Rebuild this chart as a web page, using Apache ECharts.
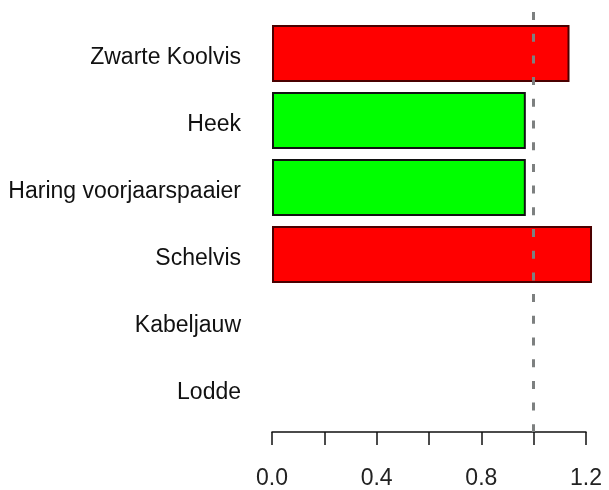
<!DOCTYPE html>
<html>
<head>
<meta charset="utf-8">
<script src="https://cdn.jsdelivr.net/npm/echarts@6/dist/echarts.min.js"></script>
<style>
html,body{margin:0;padding:0;background:#fff;}
#c{width:609px;height:490px;}
</style>
</head>
<body>
<div id="c"></div>
<script>
var categories = ['Zwarte Koolvis', 'Heek', 'Haring voorjaarspaaier', 'Schelvis', 'Kabeljauw', 'Lodde'];
var values = [1.137, 0.97, 0.97, 1.223, null, null];
var referenceValue = 1.0;
var axisMin = 0, axisMax = 1.2, tickStep = 0.2;

var gridTop = 20, gridBottom = 68, axisOffset = 10, chartH = 490;
var chart = echarts.init(document.getElementById('c'), null, {renderer: 'canvas'});
var font = 'Liberation Sans, Arial, sans-serif';
var option = {
  animation: false,
  grid: {left: 272, right: 23, top: gridTop, bottom: gridBottom},
  xAxis: {
    type: 'value',
    min: axisMin, max: axisMax, interval: tickStep,
    offset: axisOffset,
    axisLine: {show: true, lineStyle: {color: '#111', width: 1.5}},
    axisTick: {show: true, length: 13, lineStyle: {color: '#111', width: 1.5}},
    splitLine: {show: false},
    axisLabel: {
      margin: 35, color: '#222', fontSize: 23, fontFamily: font,
      formatter: function (v) {
        var k = Math.round(v / tickStep);
        return k % 2 === 0 ? v.toFixed(1) : '';
      }
    }
  },
  yAxis: {
    type: 'category',
    inverse: true,
    data: categories,
    axisLine: {show: false},
    axisTick: {show: false},
    axisLabel: {
      margin: 31, color: '#111', fontSize: 23, fontFamily: font,
      formatter: function (v) { return '{t|' + v + '}'; },
      rich: {t: {color: '#111', fontSize: 23, fontFamily: font, padding: [8, 0, 0, 0]}}
    }
  },
  series: [{
    type: 'bar',
    barWidth: 57,
    clip: false,
    data: values.map(function (v) {
      return {
        value: v,
        itemStyle: {
          color: v > referenceValue ? '#ff0000' : '#00ff00',
          borderColor: v > referenceValue ? '#4a0000' : '#111',
          borderWidth: 2
        }
      };
    }),
    markLine: {
      silent: true,
      symbol: 'none',
      label: {show: false},
      lineStyle: {color: '#7d8080', type: [8, 13.7], width: 3},
      data: [[
        {xAxis: referenceValue, y: 12},
        {xAxis: referenceValue, y: chartH - gridBottom + axisOffset}
      ]]
    }
  }]
};
chart.setOption(option);
</script>
</body>
</html>
